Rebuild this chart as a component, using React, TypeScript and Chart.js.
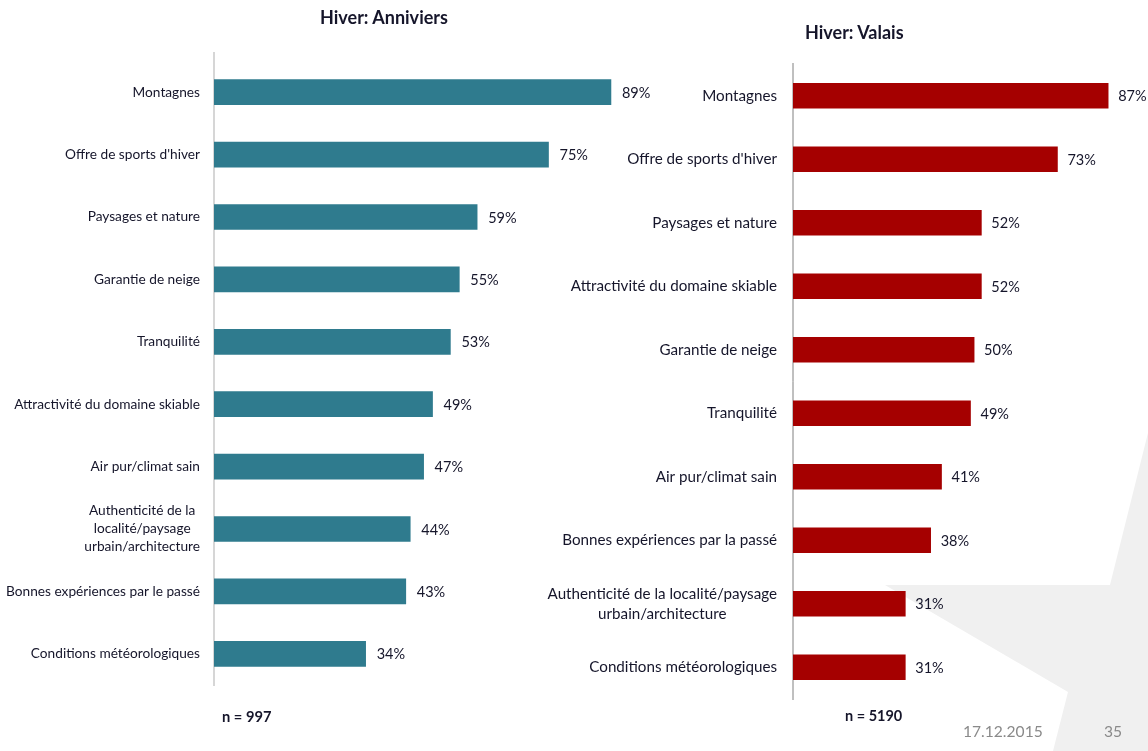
import React, { useEffect, useRef } from "react";
import { Chart, registerables } from "chart.js";

Chart.register(...registerables);

const categoriesAnniviers: (string | string[])[] = [
  "Montagnes",
  "Offre de sports d'hiver",
  "Paysages et nature",
  "Garantie de neige",
  "Tranquilité",
  "Attractivité du domaine skiable",
  "Air pur/climat sain",
  ["Authenticité de la", "localité/paysage", "urbain/architecture"],
  "Bonnes expériences par le passé",
  "Conditions météorologiques",
];
const valuesAnniviers = [89, 75, 59, 55, 53, 49, 47, 44, 43, 34];

const categoriesValais: (string | string[])[] = [
  "Montagnes",
  "Offre de sports d'hiver",
  "Paysages et nature",
  "Attractivité du domaine skiable",
  "Garantie de neige",
  "Tranquilité",
  "Air pur/climat sain",
  "Bonnes expériences par la passé",
  ["Authenticité de la localité/paysage", "urbain/architecture"],
  "Conditions météorologiques",
];
const valuesValais = [87, 73, 52, 52, 50, 49, 41, 38, 31, 31];

const FONT = "Lato, 'Open Sans', sans-serif";
const TEXT = "#15152a";

type Cfg = {
  labels: (string | string[])[];
  values: number[];
  color: string;
  axisColor: string;
  axisWidth: number;
  axisTop: number;
  axisBottom: number;
  yWidth: number;
  padTop: number;
  padBottom: number;
  padRight: number;
  xMax: number;
  tickSize: number;
  tickPad: number;
  lineHeight: number;
  valueSize: number;
  valueOffset: number;
  width: number;
  height: number;
};

function BarChart({ cfg, left }: { cfg: Cfg; left: number }) {
  const ref = useRef<HTMLCanvasElement | null>(null);
  useEffect(() => {
    if (!ref.current) return;
    const axisPlugin = {
      id: "axisLine",
      beforeDatasetsDraw(chart: any) {
        const ctx = chart.ctx;
        const x = chart.chartArea.left;
        ctx.save();
        ctx.strokeStyle = cfg.axisColor;
        ctx.lineWidth = cfg.axisWidth;
        ctx.beginPath();
        ctx.moveTo(x, cfg.axisTop);
        ctx.lineTo(x, cfg.axisBottom);
        ctx.stroke();
        ctx.restore();
      },
      afterDatasetsDraw(chart: any) {
        const ctx = chart.ctx;
        const meta = chart.getDatasetMeta(0);
        const yScale = chart.scales.y;
        const right = chart.chartArea.left - cfg.tickPad;
        ctx.save();
        ctx.fillStyle = TEXT;
        ctx.textBaseline = "middle";
        // category labels
        ctx.font = `${cfg.tickSize}px ${FONT}`;
        cfg.labels.forEach((lab, i) => {
          const yc = yScale.getPixelForTick(i);
          if (Array.isArray(lab)) {
            const maxW = Math.max(...lab.map((l) => ctx.measureText(l).width));
            const cx = right - maxW / 2;
            ctx.textAlign = "center";
            const n = lab.length;
            lab.forEach((l, j) => {
              ctx.fillText(l, cx, yc + (j - (n - 1) / 2) * cfg.lineHeight);
            });
          } else {
            ctx.textAlign = "right";
            ctx.fillText(lab, right, yc);
          }
        });
        // value labels
        ctx.font = `${cfg.valueSize}px ${FONT}`;
        ctx.textAlign = "left";
        meta.data.forEach((el: any, i: number) => {
          ctx.fillText(`${cfg.values[i]}%`, el.x + cfg.valueOffset, el.y + 1);
        });
        ctx.restore();
      },
    };
    const chart = new Chart(ref.current, {
      type: "bar",
      data: {
        labels: cfg.labels as any,
        datasets: [
          {
            data: cfg.values,
            backgroundColor: cfg.color,
            borderWidth: 0,
            barThickness: 25,
          },
        ],
      },
      options: {
        indexAxis: "y",
        animation: false,
        responsive: false,
        maintainAspectRatio: false,
        layout: {
          padding: { top: cfg.padTop, bottom: cfg.padBottom, left: 0, right: cfg.padRight },
        },
        plugins: {
          legend: { display: false },
          tooltip: { enabled: false },
          title: { display: false },
        },
        scales: {
          x: { display: false, min: 0, max: cfg.xMax },
          y: {
            grid: { display: false, drawTicks: false },
            border: { display: false },
            ticks: { display: false, autoSkip: false },
            afterFit(scale: any) {
              scale.width = cfg.yWidth;
            },
          },
        },
      },
      plugins: [axisPlugin],
    });
    return () => chart.destroy();
  }, []);
  return (
    <canvas
      ref={ref}
      width={cfg.width}
      height={cfg.height}
      style={{ position: "absolute", left, top: 0, width: cfg.width, height: cfg.height }}
    />
  );
}

const leftCfg: Cfg = {
  labels: categoriesAnniviers,
  values: valuesAnniviers,
  color: "#2f7b8e",
  axisColor: "#d6d6d6",
  axisWidth: 2,
  axisTop: 52,
  axisBottom: 686,
  yWidth: 214,
  padTop: 61,
  padBottom: 66,
  padRight: 20,
  xMax: 100,
  tickSize: 13.7,
  tickPad: 14,
  lineHeight: 18,
  valueSize: 14.5,
  valueOffset: 11,
  width: 680,
  height: 751,
};

const rightCfg: Cfg = {
  labels: categoriesValais,
  values: valuesValais,
  color: "#a50000",
  axisColor: "#808080",
  axisWidth: 1,
  axisTop: 63,
  axisBottom: 700,
  yWidth: 273,
  padTop: 64,
  padBottom: 52,
  padRight: 0,
  xMax: 98,
  tickSize: 15.2,
  tickPad: 16,
  lineHeight: 20,
  valueSize: 14.5,
  valueOffset: 10,
  width: 628,
  height: 751,
};

export default function App() {
  const txt = (s: string, x: number, y: number, extra: React.CSSProperties = {}) => (
    <div
      style={{
        position: "absolute",
        left: x,
        top: y,
        fontFamily: FONT,
        color: TEXT,
        whiteSpace: "nowrap",
        lineHeight: 1,
        ...extra,
      }}
    >
      {s}
    </div>
  );
  return (
    <div
      style={{
        position: "absolute",
        left: 0,
        top: 0,
        width: 1148,
        height: 751,
        overflow: "hidden",
        background: "#ffffff",
      }}
    >
      <svg width={1148} height={751} style={{ position: "absolute", left: 0, top: 0 }}>
        <polygon
          points="1148,433 1110,585 885,585 1068,692 1053,751 1148,751"
          fill="#f0f0f0"
        />
      </svg>
      <BarChart cfg={leftCfg} left={0} />
      <BarChart cfg={rightCfg} left={520} />
      {txt("Hiver: Anniviers", 320, 8, { fontWeight: 700, fontSize: 18 })}
      {txt("Hiver: Valais", 805, 23, { fontWeight: 700, fontSize: 18 })}
      {txt("n = 997", 222, 709, { fontWeight: 700, fontSize: 14.7 })}
      {txt("n = 5190", 845, 709, { fontWeight: 700, fontSize: 14.5 })}
      {txt("17.12.2015", 963, 724, { fontSize: 15.6, color: "#8a8a8a" })}
      {txt("35", 1104, 724, { fontSize: 15.6, color: "#8a8a8a" })}
    </div>
  );
}
